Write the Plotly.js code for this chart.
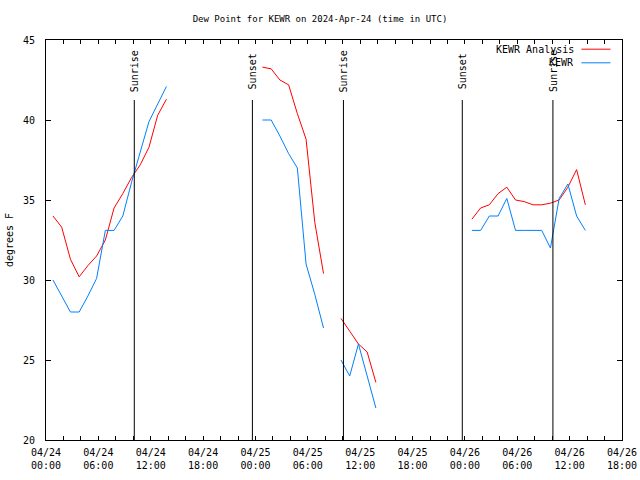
<!DOCTYPE html>
<html>
<head>
<meta charset="utf-8">
<script src="https://cdn.plot.ly/plotly-3.0.1.min.js"></script>
<style>html,body{margin:0;padding:0;background:#fff;}#chart{width:640px;height:480px;}</style>
</head>
<body>
<div id="chart"></div>
<script>
// Observation times (UTC); null values mark gaps in the record
const times = [
  "2024-04-24 00:48","2024-04-24 01:48","2024-04-24 02:48","2024-04-24 03:48","2024-04-24 04:48",
  "2024-04-24 05:48","2024-04-24 06:48","2024-04-24 07:48","2024-04-24 08:48","2024-04-24 09:48",
  "2024-04-24 10:48","2024-04-24 11:48","2024-04-24 12:48","2024-04-24 13:48",
  "2024-04-24 14:48",
  "2024-04-25 00:48","2024-04-25 01:48","2024-04-25 02:48","2024-04-25 03:48","2024-04-25 04:48",
  "2024-04-25 05:48","2024-04-25 06:48","2024-04-25 07:48",
  "2024-04-25 08:48",
  "2024-04-25 09:48","2024-04-25 10:48","2024-04-25 11:48","2024-04-25 12:48","2024-04-25 13:48",
  "2024-04-25 14:48",
  "2024-04-26 00:48","2024-04-26 01:48","2024-04-26 02:48","2024-04-26 03:48","2024-04-26 04:48",
  "2024-04-26 05:48","2024-04-26 06:48","2024-04-26 07:48","2024-04-26 08:48","2024-04-26 09:48",
  "2024-04-26 10:48","2024-04-26 11:48","2024-04-26 12:48","2024-04-26 13:48"
];

const analysisDewpt = [
  34.0,33.3,31.3,30.2,30.9,31.5,32.5,34.5,35.4,36.4,37.2,38.3,40.3,41.3,
  null,
  43.3,43.2,42.5,42.2,40.4,38.8,33.6,30.4,
  null,
  27.6,26.8,26.0,25.5,23.6,
  null,
  33.8,34.5,34.7,35.4,35.8,35.0,34.9,34.7,34.7,34.8,35.0,35.8,36.9,34.7
];

const obsDewpt = [
  30.0,29.0,28.0,28.0,29.0,30.1,33.1,33.1,34.0,36.1,38.0,39.9,41.0,42.1,
  null,
  40.0,40.0,39.0,37.9,37.0,31.0,29.1,27.0,
  null,
  25.0,24.0,26.0,24.0,22.0,
  null,
  33.1,33.1,34.0,34.0,35.1,33.1,33.1,33.1,33.1,32.0,35.1,36.0,34.0,33.1
];

const seriesNames = ["KEWR Analysis", "KEWR"];
const seriesColors = ["#ff0000", "#0080ff"];

const sunTimes = ["2024-04-24 10:07","2024-04-24 23:39","2024-04-25 10:05","2024-04-25 23:42","2024-04-26 10:05"];
const sunLabels = ["Sunrise","Sunset","Sunrise","Sunset","Sunrise"];

const tickVals = ["2024-04-24 00:00","2024-04-24 06:00","2024-04-24 12:00","2024-04-24 18:00",
                  "2024-04-25 00:00","2024-04-25 06:00","2024-04-25 12:00","2024-04-25 18:00",
                  "2024-04-26 00:00","2024-04-26 06:00","2024-04-26 12:00","2024-04-26 18:00"];
const tickText = ["04/24<br>00:00","04/24<br>06:00","04/24<br>12:00","04/24<br>18:00",
                  "04/25<br>00:00","04/25<br>06:00","04/25<br>12:00","04/25<br>18:00",
                  "04/26<br>00:00","04/26<br>06:00","04/26<br>12:00","04/26<br>18:00"];

const FONT = "DejaVu Sans Mono, monospace";

const traces = [
  {x: times, y: analysisDewpt, name: seriesNames[0], type: "scatter", mode: "lines",
   line: {color: seriesColors[0], width: 1}, connectgaps: false},
  {x: times, y: obsDewpt, name: seriesNames[1], type: "scatter", mode: "lines",
   line: {color: seriesColors[1], width: 1}, connectgaps: false}
];

const shapes = sunTimes.map(t => ({
  type: "line", xref: "x", yref: "paper", x0: t, x1: t, y0: 0, y1: 0.85,
  line: {color: "#000", width: 1}
}));
const annotations = sunTimes.map((t, i) => ({
  x: t, xref: "x", y: 0.9225, yref: "paper", text: sunLabels[i], textangle: -90,
  showarrow: false, xanchor: "center", yanchor: "middle",
  font: {family: FONT, size: 10, color: "#000"}
}));

// legend drawn gnuplot-style: text right-aligned, sample line to its right
seriesNames.forEach((n, i) => {
  const yy = i === 0 ? 0.977 : 0.943;
  annotations.push({x: 0.92, xref: "paper", y: yy, yref: "paper", text: n,
    showarrow: false, xanchor: "right", yanchor: "middle",
    font: {family: FONT, size: 10, color: "#000"}});
  shapes.push({type: "line", xref: "paper", yref: "paper", x0: 0.9296, x1: 0.98, y0: yy, y1: yy,
    line: {color: seriesColors[i], width: 1}});
});

const layout = {
  width: 640, height: 480,
  margin: {l: 46, r: 18, t: 40, b: 40},
  paper_bgcolor: "#fff", plot_bgcolor: "#fff",
  showlegend: false,
  font: {family: FONT, size: 9, color: "#000"},
  title: {text: "Dew Point for KEWR on 2024-Apr-24 (time in UTC)", x: 0.5, xanchor: "center",
          y: 0.96, yanchor: "middle", yref: "container", font: {family: FONT, size: 9, color: "#000"}},
  xaxis: {
    type: "date", range: ["2024-04-24 00:00", "2024-04-26 18:00"],
    tickmode: "array", tickvals: tickVals, ticktext: tickText,
    ticks: "inside", ticklen: 4, tickcolor: "#000", tickwidth: 1,
    minor: {tickmode: "linear", tick0: "2024-04-24 00:00", dtick: 7200000, ticks: "inside", ticklen: 4, tickcolor: "#000", showgrid: false},
    showline: true, linecolor: "#000", linewidth: 1, mirror: "allticks",
    showgrid: false, zeroline: false, tickangle: 0,
    ticklabelstandoff: 3,
    tickfont: {family: FONT, size: 10, color: "#000"}
  },
  yaxis: {
    range: [20, 45], dtick: 5, tick0: 20,
    ticks: "inside", ticklen: 5, tickcolor: "#000",
    showline: true, linecolor: "#000", linewidth: 1, mirror: "allticks",
    showgrid: false, zeroline: false,
    ticklabelstandoff: 8,
    tickfont: {family: FONT, size: 10, color: "#000"},
    title: {text: "degrees F", standoff: 7, font: {family: FONT, size: 10, color: "#000"}}
  },
  shapes: shapes,
  annotations: annotations
};

Plotly.newPlot("chart", traces, layout, {staticPlot: true, displayModeBar: false});
</script>
</body>
</html>
